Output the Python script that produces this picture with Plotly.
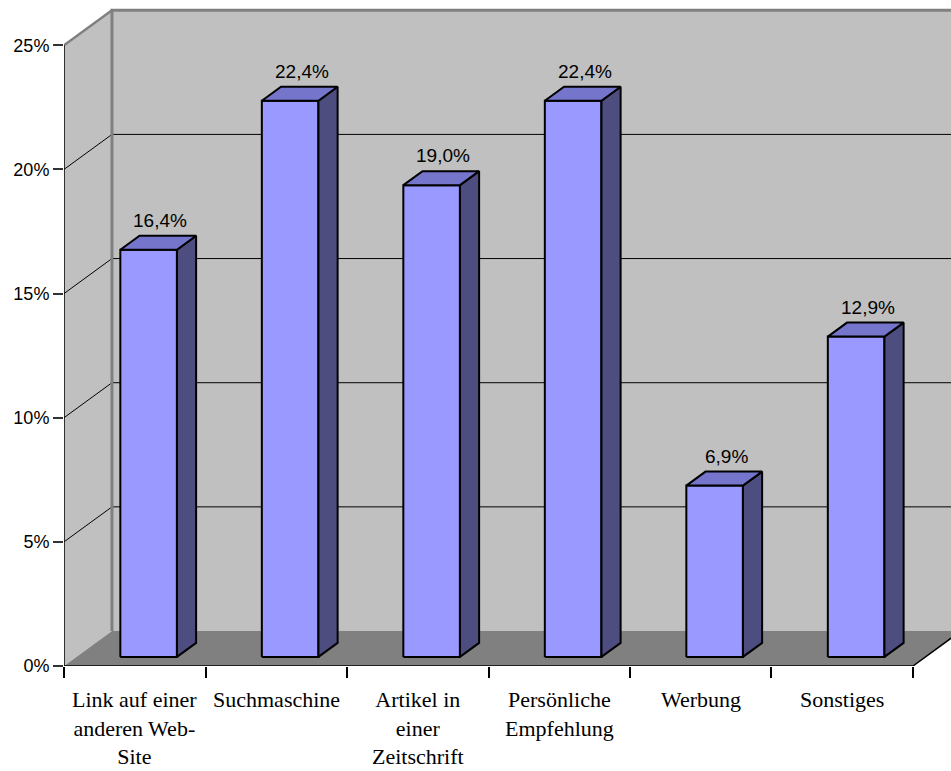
import plotly.graph_objects as go

# ---------------- data ----------------
categories = [
    "Link auf einer<br>anderen Web-<br>Site",
    "Suchmaschine",
    "Artikel in<br>einer<br>Zeitschrift",
    "Persönliche<br>Empfehlung",
    "Werbung",
    "Sonstiges",
]
values = [16.4, 22.4, 19.0, 22.4, 6.9, 12.9]
value_labels = ["16,4%", "22,4%", "19,0%", "22,4%", "6,9%", "12,9%"]
y_ticks = [0, 5, 10, 15, 20, 25]
y_tick_labels = ["0%", "5%", "10%", "15%", "20%", "25%"]

# ---------------- 3D look parameters ----------------
Y_MAX = 25
N = len(values)
DX = 0.339   # full depth, in category units
DY = 1.409   # full depth, in percent units
Z0, Z1 = 0.26, 0.66   # bar front / back depth fractions
BAR_LEFT = 0.31
BAR_W = 0.40
X_RANGE = [0, 6.2686]
Y_RANGE = [0, 26.5]
FAR = X_RANGE[1] + 1

FRONT_C = "#9999FF"
TOP_C = "#7575CC"
SIDE_C = "#4D4D80"
WALL_C = "#C0C0C0"
FLOOR_C = "#808080"


def proj(x, v, z):
    return x + z * DX, v + z * DY


fig = go.Figure()


def poly(pts, fill=None, color="black", width=0.0, close=True):
    xs = [p[0] for p in pts]
    ys = [p[1] for p in pts]
    if close:
        xs.append(xs[0])
        ys.append(ys[0])
    kw = {}
    if fill is not None:
        kw = dict(fill="toself", fillcolor=fill)
    fig.add_trace(go.Scatter(
        x=xs, y=ys, mode="lines",
        line=dict(color=color if width > 0 else "rgba(0,0,0,0)", width=max(width, 0.1)),
        hoverinfo="skip", showlegend=False, **kw))


# back wall
poly([proj(0, 0, 1), (FAR, DY), (FAR, Y_MAX + DY), proj(0, Y_MAX, 1)], fill=WALL_C)
# side wall
poly([(0, 0), (0, Y_MAX), proj(0, Y_MAX, 1), proj(0, 0, 1)], fill=WALL_C)
# floor
poly([(0, 0), (N, 0), proj(N, 0, 1), proj(0, 0, 1)], fill=FLOOR_C)

# gridlines
for t in y_ticks[1:-1]:
    poly([(0, t), proj(0, t, 1), (FAR, t + DY)], color="black", width=1, close=False)

# wall borders
poly([proj(0, 0, 1), proj(0, Y_MAX, 1), (FAR, Y_MAX + DY)], color=FLOOR_C, width=3, close=False)
poly([(0, Y_MAX), proj(0, Y_MAX, 1)], color=FLOOR_C, width=2.5, close=False)
# floor front & right edges
poly([(0, 0), (N, 0), proj(N, 0, 1)], color="black", width=1.5, close=False)
# value axis line
poly([(0, 0), (0, Y_MAX)], color="black", width=1.5, close=False)

# bars
annotations = []
for i, v in enumerate(values):
    xl = i + BAR_LEFT
    xr = xl + BAR_W
    poly([proj(xl, 0, Z0), proj(xr, 0, Z0), proj(xr, v, Z0), proj(xl, v, Z0)],
         fill=FRONT_C, color="black", width=2)
    poly([proj(xr, 0, Z0), proj(xr, 0, Z1), proj(xr, v, Z1), proj(xr, v, Z0)],
         fill=SIDE_C, color="black", width=2)
    poly([proj(xl, v, Z0), proj(xr, v, Z0), proj(xr, v, Z1), proj(xl, v, Z1)],
         fill=TOP_C, color="black", width=2)
    lx, _ = proj(xl + BAR_W / 2, v, 0.5)
    annotations.append(dict(
        x=lx, y=v + Z1 * DY, xref="x", yref="y", text=value_labels[i],
        showarrow=False, yanchor="bottom", yshift=3,
        font=dict(family="Liberation Sans, Arial, sans-serif", size=19, color="black")))

for i, c in enumerate(categories):
    annotations.append(dict(
        x=i + 0.5, y=0, xref="x", yref="y", text=c, showarrow=False,
        yanchor="top", yshift=-19, align="center",
        font=dict(family="Liberation Serif, Times New Roman, serif", size=22, color="black")))

fig.update_layout(
    width=951, height=771,
    margin=dict(l=64, r=0, t=8, b=105),
    paper_bgcolor="white", plot_bgcolor="white",
    annotations=annotations,
    xaxis=dict(range=X_RANGE, showgrid=False, zeroline=False, showline=False,
               tickmode="array", tickvals=list(range(N + 1)), ticktext=[""] * (N + 1),
               ticks="outside", ticklen=11, tickwidth=1.5, tickcolor="black",
               showticklabels=False, fixedrange=True),
    yaxis=dict(range=Y_RANGE, showgrid=False, zeroline=False, showline=False,
               tickmode="array", tickvals=y_ticks, ticktext=y_tick_labels,
               ticks="outside", ticklen=10, tickwidth=1.5, tickcolor="#333333",
               tickfont=dict(family="Liberation Sans, Arial, sans-serif", size=18, color="black"),
               fixedrange=True),
)

fig.write_html("out.html")
